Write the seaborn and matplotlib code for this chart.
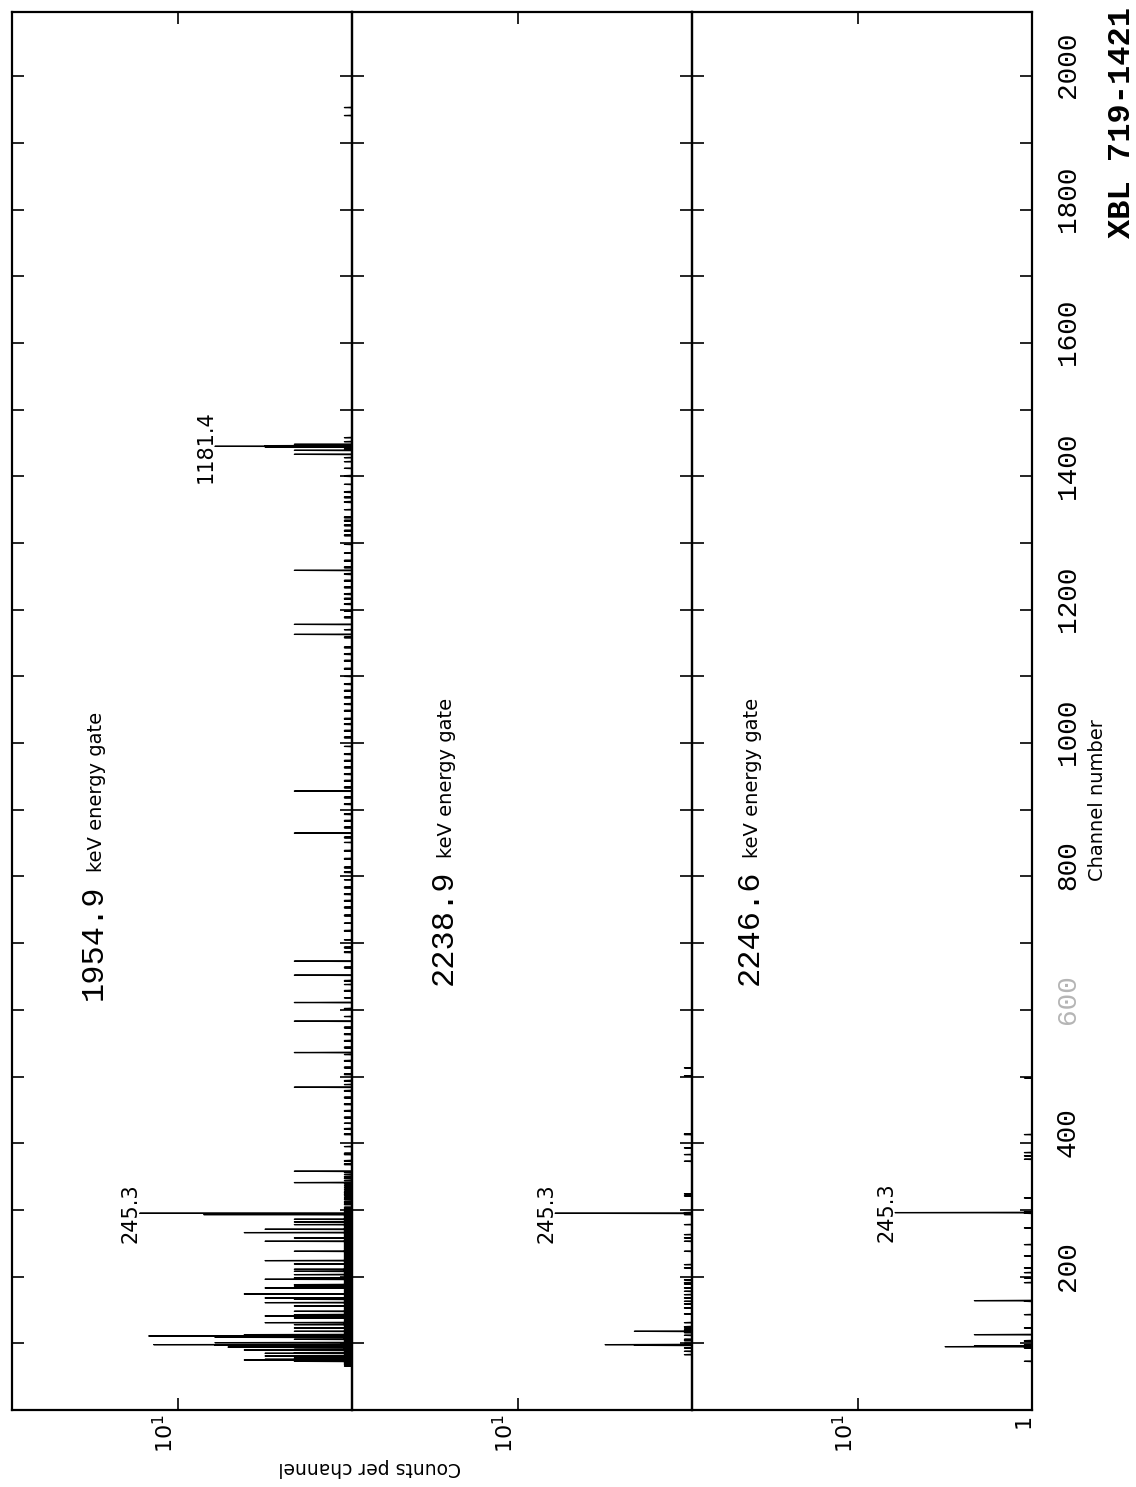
import numpy as np
import pandas as pd
import matplotlib
matplotlib.use("Agg")
import matplotlib.pyplot as plt
import matplotlib.transforms as mtransforms
from matplotlib import font_manager
from matplotlib.ticker import NullLocator
import seaborn as sns

# ---------------------------------------------------------------------------
# Data: gated gamma-ray coincidence spectra (counts per channel)
# ---------------------------------------------------------------------------
N_CHANNELS = 2100

# 1954.9 keV energy gate
gate1_peak_channels = [73, 75, 76, 78, 81, 85, 86, 90, 91, 94, 96, 97, 98, 101, 106,
                       109, 111, 113, 118, 123, 128, 131, 138, 141, 143, 148, 156,
                       161, 166, 168, 174, 183, 186, 188, 196, 198, 203, 208, 211,
                       219, 224, 238, 253, 258, 266, 271, 278, 282, 286, 293, 295,
                       341, 358, 484, 536, 583, 611, 652, 673, 865, 928, 1163, 1178,
                       1259, 1433, 1439, 1444, 1445, 1446, 1448]
gate1_peak_counts = [2, 4, 3, 2, 3, 3, 2, 4, 2, 5, 5, 6, 14, 6, 2,
                     6, 15, 4, 2, 2, 2, 3, 2, 3, 2, 2, 2,
                     3, 2, 3, 4, 3, 2, 2, 3, 2, 2, 2, 2,
                     2, 3, 2, 3, 2, 4, 3, 2, 2, 2, 7, 17,
                     2, 2, 2, 2, 2, 2, 2, 2, 2, 2, 2, 2,
                     2, 2, 2, 3, 6, 3, 2]
gate1_single_channels = [
    66, 68, 69, 70, 71, 72, 74, 77, 79, 80, 82, 83, 84, 87, 88, 89, 92, 93, 95, 99,
    100, 102, 103, 104, 105, 107, 108, 110, 112, 114, 115, 116, 117, 119, 120, 121,
    122, 124, 125, 126, 127, 129, 130, 132, 133, 134, 135, 136, 137, 139, 140, 142,
    144, 145, 146, 147, 149, 150, 151, 152, 153, 154, 155, 157, 158, 159, 160, 162,
    163, 164, 165, 167, 169, 170, 171, 172, 173, 175, 176, 177, 178, 179, 180, 181,
    182, 184, 185, 187, 189, 190, 191, 192, 193, 194, 195, 197, 199, 200, 201, 202,
    204, 205, 206, 207, 209, 210, 212, 213, 214, 215, 216, 217, 218, 220, 221, 222,
    223, 225, 226, 227, 228, 229, 230, 231, 232, 233, 234, 235, 236, 237, 239, 240,
    241, 242, 243, 244, 245, 246, 247, 248, 249, 250, 251, 252, 254, 255, 256, 257,
    259, 260, 261, 262, 263, 264, 265, 267, 268, 269, 270, 272, 273, 274, 275, 276,
    277, 279, 280, 281, 283, 284, 285, 287, 288, 289, 290, 291, 292, 294, 297, 298,
    300, 302, 304, 308, 309, 311, 313, 316, 318, 321, 323, 324, 326, 327, 330, 333,
    336, 339, 344, 347, 348, 350, 353, 356,
    368, 369, 373, 374, 383, 384, 385, 395, 413, 414, 421, 422, 430, 438, 439, 448,
    449, 458, 459, 468, 469, 478, 479, 488, 493, 494, 503, 504, 513, 514, 523, 524,
    533, 543, 544, 553, 554, 563, 564, 573, 574, 590, 601, 602, 618, 628, 629, 638,
    643, 644, 663, 664, 686, 687, 693, 694, 705, 718, 719, 730, 741, 742, 753, 754,
    763, 764, 773, 774, 783, 784, 795, 806, 807, 813, 814, 826, 827, 838, 839, 851,
    858, 859, 873, 874, 883, 884, 893, 894, 908, 909, 918, 919, 933, 934, 943, 944,
    953, 954, 963, 964, 973, 974, 983, 984, 995, 1008, 1009, 1018, 1019, 1028, 1029,
    1036, 1037, 1048, 1049, 1058, 1059, 1068, 1069, 1078, 1079, 1088, 1089, 1100,
    1111, 1112, 1123, 1124, 1133, 1134, 1143, 1144, 1158, 1159, 1170, 1188, 1189,
    1198, 1208, 1209, 1216, 1217, 1223, 1224, 1233, 1234, 1243, 1244, 1253, 1254,
    1263, 1264, 1273, 1274, 1285, 1298, 1311, 1312, 1318, 1319, 1326, 1327, 1333,
    1334, 1338, 1339, 1350, 1361, 1362, 1368, 1369, 1376, 1377, 1388, 1400, 1401,
    1412, 1422, 1428, 1441, 1452, 1458, 1941, 1953]

# 2238.9 keV energy gate
gate2_peak_channels = [97, 98, 118, 295]
gate2_peak_counts = [2, 3, 2, 6]
gate2_single_channels = [
    83, 88, 93, 99, 100, 104, 106, 112, 116, 120, 123, 125, 131, 144, 153, 159, 163,
    168, 173, 178, 183, 189, 191, 195, 213, 218, 238, 253, 258, 263, 278, 293, 294,
    296, 321, 324, 373, 383, 393, 413, 414, 501, 513]

# 2246.6 keV energy gate
gate3_peak_channels = [95, 96, 113, 164, 296]
gate3_peak_counts = [3, 2, 2, 2, 6]
gate3_single_channels = [
    73, 93, 94, 98, 103, 104, 123, 143, 163, 191, 198, 206, 213, 231, 248, 273, 295,
    297, 318, 376, 381, 386, 413, 498]

gate_energies = ["1954.9", "2238.9", "2246.6"]
gate_text = "keV energy gate"
peak_label_channel = [295, 295, 296]
peak_label_text = "245.3"
extra_peak_channel = 1445
extra_peak_text = "1181.4"

channel_ticks = list(range(0, 2001, 100))
channel_ticklabels = list(range(200, 2001, 200))

# ---------------------------------------------------------------------------
# Styling
# ---------------------------------------------------------------------------
sns.set_theme(style="white")
plt.rcParams["font.family"] = ["DejaVu Sans"]
plt.rcParams["axes.edgecolor"] = "black"
plt.rcParams["text.color"] = "black"
plt.rcParams["xtick.color"] = "black"
plt.rcParams["ytick.color"] = "black"

SANS = ["DejaVu Sans"]
MONO = ["Liberation Mono", "DejaVu Sans Mono"]

COUNT_FLOOR = 0.9
COUNT_TOP = 100.0
CH_TOP = 2097

W, H = 1136, 1487
fig = plt.figure(figsize=(W / 100, H / 100), dpi=100)
fig.patch.set_facecolor("white")


def px(x, y):
    """Pixel coordinates measured from the top-left corner to display coords."""
    return x, H - y


def box(x0, y0, x1, y1):
    return [x0 / W, 1 - y1 / H, (x1 - x0) / W, (y1 - y0) / H]


edges = [11.7, 352, 692, 1032]
TOP, BOTTOM = 11.5, 1410
axes = [fig.add_axes(box(edges[i], TOP, edges[i + 1], BOTTOM)) for i in range(3)]

spectra = [
    (gate1_peak_channels, gate1_peak_counts, gate1_single_channels),
    (gate2_peak_channels, gate2_peak_counts, gate2_single_channels),
    (gate3_peak_channels, gate3_peak_counts, gate3_single_channels),
]


def spectrum(peak_ch, peak_counts, single_ch):
    counts = np.zeros(N_CHANNELS)
    counts[np.asarray(single_ch)] = 1
    counts[np.asarray(peak_ch)] = peak_counts
    return counts


def spike_table(counts):
    # each channel is drawn as a spike rising from the floor of the log axis
    ch = np.arange(N_CHANNELS, dtype=float)
    vals = np.maximum(counts, COUNT_FLOOR)
    y = np.empty(2 * N_CHANNELS)
    x = np.empty(2 * N_CHANNELS)
    y[0::2] = ch
    x[0::2] = vals
    y[1::2] = ch + 0.5
    x[1::2] = COUNT_FLOOR
    return pd.DataFrame({"counts": x, "channel": y})


def shift(dx, dy):
    return mtransforms.ScaledTranslation(dx / 100, dy / 100, fig.dpi_scale_trans)


TICK_LEN = 12 * 0.72
for i, ax in enumerate(axes):
    counts = spectrum(*spectra[i])
    sns.lineplot(data=spike_table(counts), x="counts", y="channel", orient="y",
                 estimator=None, sort=False, color="black", linewidth=0.9, ax=ax)
    ax.set_xscale("log")
    ax.set_xlim(COUNT_TOP, COUNT_FLOOR)
    ax.set_ylim(0, CH_TOP)
    ax.set_xlabel("")
    ax.set_ylabel("")
    ax.set_facecolor("none")
    for s in ax.spines.values():
        s.set_linewidth(1.6)
        s.set_color("black")
    ax.set_xticks([10])
    ax.xaxis.set_minor_locator(NullLocator())
    ax.tick_params(axis="x", which="both", top=True, bottom=True, direction="in",
                   length=TICK_LEN, width=1.2, labelbottom=False, labeltop=False)
    ax.set_yticks(channel_ticks)
    ax.yaxis.set_minor_locator(NullLocator())
    ax.tick_params(axis="y", which="both", left=True, right=True, direction="in",
                   length=TICK_LEN, width=1.2, labelleft=False, labelright=False)

    # count-axis label under the panel
    trans = mtransforms.blended_transform_factory(ax.transData, ax.transAxes)
    ax.text(10, 0, r"$10^{1}$", transform=trans + shift(-5, -4),
            rotation=90, rotation_mode="anchor", ha="right", va="baseline",
            fontsize=16, clip_on=False)

    # label at the tip of the 245.3 keV line
    pk = peak_label_channel[i]
    tip = counts[pk]
    ax.text(tip, pk, peak_label_text, transform=ax.transData + shift(-3, 0),
            rotation=90, rotation_mode="anchor", ha="center", va="baseline",
            fontsize=15, family=SANS)

# 1181.4 keV line in the first gate
c1 = spectrum(*spectra[0])
axes[0].text(c1[extra_peak_channel], extra_peak_channel, extra_peak_text,
             transform=axes[0].transData + shift(-3, 0),
             rotation=90, rotation_mode="anchor", ha="center", va="baseline",
             fontsize=15, family=SANS)

# "1" at the floor of the last panel
ax3 = axes[2]
trans3 = mtransforms.blended_transform_factory(ax3.transData, ax3.transAxes)
ax3.text(1, 0, "1", transform=trans3 + shift(5, -4),
         rotation=90, rotation_mode="anchor", ha="right", va="baseline",
         fontsize=16, clip_on=False)

# channel tick labels on the right of the last panel
ytrans = mtransforms.blended_transform_factory(ax3.transAxes, ax3.transData)
for v in channel_ticklabels:
    ax3.text(1, v, str(v), transform=ytrans + shift(43, 11),
             rotation=90, rotation_mode="anchor", ha="center", va="baseline",
             fontsize=20, family=MONO, color="#b5b5b5" if v == 600 else "black",
             clip_on=False)

# gate labels: energy in typewriter digits followed by the unit text
ident = mtransforms.IdentityTransform()
gate_pos = [(102, 1000), (452, 985), (758, 985)]
fig.canvas.draw()
renderer = fig.canvas.get_renderer()
for (gx, gy), energy in zip(gate_pos, gate_energies):
    t = fig.text(*px(gx, gy), energy, transform=ident, rotation=90,
                 rotation_mode="anchor", ha="left", va="baseline",
                 fontsize=23, family=MONO)
    ext = t.get_window_extent(renderer)
    fig.text(gx, ext.y1 + 12, gate_text, transform=ident, rotation=90,
             rotation_mode="anchor", ha="left", va="baseline",
             fontsize=14, family=SANS)

fig.text(*px(1103, 800), "Channel number", transform=ident, rotation=90,
         rotation_mode="anchor", ha="center", va="baseline",
         fontsize=14, family=SANS)
fig.text(*px(370, 1462), "Counts per channel", transform=ident, rotation=180,
         rotation_mode="anchor", ha="center", va="baseline",
         fontsize=13.5, family=SANS)
fig.text(*px(1130, 122), "XBL 719-1421", transform=ident, rotation=90,
         rotation_mode="anchor", ha="center", va="baseline",
         fontsize=23, family=MONO, weight="bold")

fig.savefig("out.png", dpi=100, facecolor="white")
